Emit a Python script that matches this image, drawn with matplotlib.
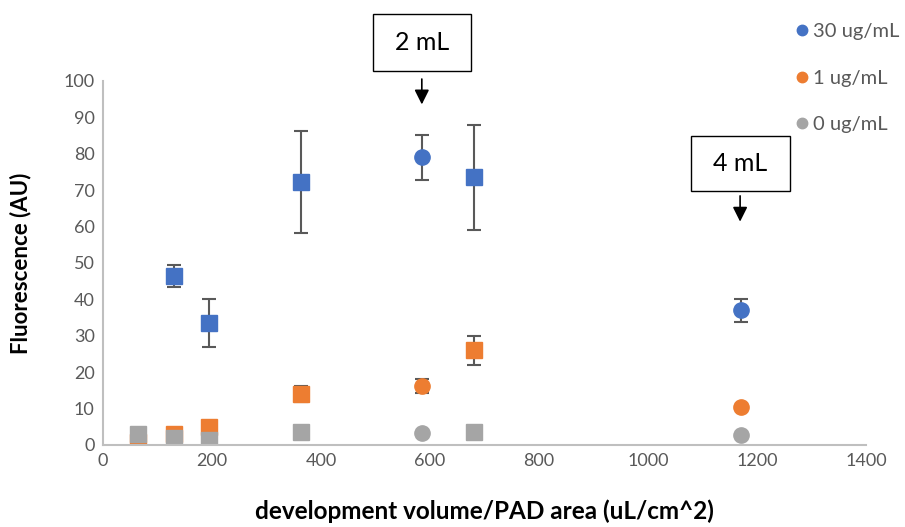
import matplotlib
matplotlib.use('Agg')
import matplotlib.pyplot as plt
from matplotlib.lines import Line2D
from matplotlib.patches import Rectangle

plt.rcParams['font.family'] = ['Lato', 'DejaVu Sans']

# squares / circles are two sets of volumes
x_sq = [65, 130, 195, 363, 680]
x_ci = [585, 1170]

# 30 ug/mL (no point at x=65)
y30_sq = [46.5, 33.5, 72.3, 73.5]
e30_sq = [3.0, 6.5, 14.0, 14.3]
y30_ci = [79.0, 37.0]
e30_ci = [6.2, 3.2]

# 1 ug/mL
y1_sq = [0.8, 3.0, 5.0, 14.0, 26.0]
e1_sq = [0.3, 0.5, 0.8, 2.3, 4.0]
y1_ci = [16.2, 10.5]
e1_ci = [1.8, 0.6]

# 0 ug/mL
y0_sq = [3.0, 2.0, 1.5, 3.5, 3.5]
e0_sq = [0.3, 0.3, 0.3, 0.3, 0.3]
y0_ci = [3.2, 2.8]
e0_ci = [0.3, 0.3]

labels = ['30 ug/mL', '1 ug/mL', '0 ug/mL']
colors = ['#4472C4', '#ED7D31', '#A5A5A5']

fig = plt.figure(figsize=(9.05, 5.27), dpi=100)
ax = fig.add_axes([0.1138, 0.1556, 0.8431, 0.6907])

ekw = dict(ls='none', ecolor='#595959', elinewidth=1.5, capsize=5, capthick=1.5)
ax.errorbar(x_sq[1:], y30_sq, yerr=e30_sq, marker='s', ms=11, color=colors[0], **ekw)
ax.errorbar(x_ci, y30_ci, yerr=e30_ci, marker='o', ms=11, color=colors[0], **ekw)
ax.errorbar(x_sq, y1_sq, yerr=e1_sq, marker='s', ms=11, color=colors[1], **ekw)
ax.errorbar(x_ci, y1_ci, yerr=e1_ci, marker='o', ms=11, color=colors[1], **ekw)
ax.errorbar(x_sq, y0_sq, yerr=e0_sq, marker='s', ms=11, color=colors[2], **ekw)
ax.errorbar(x_ci, y0_ci, yerr=e0_ci, marker='o', ms=11, color=colors[2], **ekw)

ax.set_xlim(0, 1400)
ax.set_ylim(0, 100)
ax.set_xticks(range(0, 1401, 200))
ax.set_yticks(range(0, 101, 10))
for s in ['top', 'right']:
    ax.spines[s].set_visible(False)
for s in ['left', 'bottom']:
    ax.spines[s].set_color('#BFBFBF')
    ax.spines[s].set_linewidth(1.5)
ax.tick_params(length=0, labelsize=13, labelcolor='#595959', pad=6)

ax.set_xlabel('development volume/PAD area (uL/cm^2)', fontsize=17.5, fontweight='bold', labelpad=22)
ax.set_ylabel('Fluorescence (AU)', fontsize=16, fontweight='bold', labelpad=23)

handles = [Line2D([], [], ls='none', marker='o', ms=7.5, color=c) for c in colors]
fig.legend(handles, labels, loc='upper left', bbox_to_anchor=(0.855, 0.99), frameon=False,
           fontsize=14.5, labelcolor='#595959', handletextpad=0.05, labelspacing=1.45,
           handlelength=1.0)

# annotations: boxes above the points they mark
ax.add_patch(Rectangle((495, 102.8), 181, 15.7, fc='white', ec='black', lw=1, clip_on=False))
ax.text(585.5, 110.7, '2 mL', fontsize=18, ha='center', va='center', clip_on=False)
ax.annotate('', xy=(585, 92.8), xytext=(585, 101.3), annotation_clip=False,
            arrowprops=dict(arrowstyle='-|>', color='black', lw=1.2, mutation_scale=22))

ax.add_patch(Rectangle((1078, 69.7), 182, 15.1, fc='white', ec='black', lw=1, clip_on=False))
ax.text(1169, 77.3, '4 mL', fontsize=18, ha='center', va='center', clip_on=False)
ax.annotate('', xy=(1169, 60.6), xytext=(1169, 69.2), annotation_clip=False,
            arrowprops=dict(arrowstyle='-|>', color='black', lw=1.2, mutation_scale=22))

fig.savefig('out.png', dpi=100)
